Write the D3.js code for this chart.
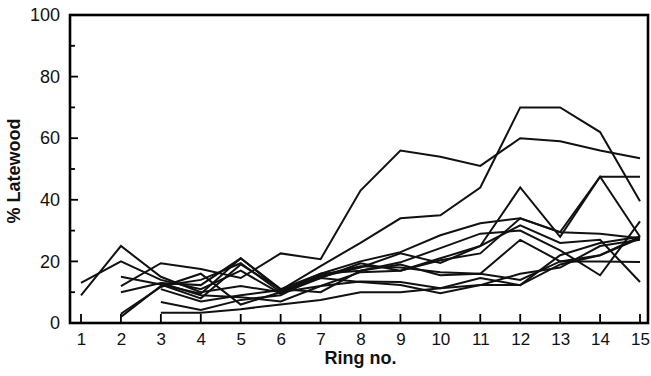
<!DOCTYPE html>
<html>
<head>
<meta charset="utf-8">
<script src="https://cdn.jsdelivr.net/npm/d3@7"></script>
<style>
  html, body { margin: 0; padding: 0; background: #fff; }
  svg { display: block; }
  text { font-family: "Liberation Sans", Arial, Helvetica, sans-serif; fill: #111; }
</style>
</head>
<body>
<svg id="chart" width="651" height="376"></svg>
<script>
// Ring numbers along the x axis
const rings = [1, 2, 3, 4, 5, 6, 7, 8, 9, 10, 11, 12, 13, 14, 15];
// Y axis tick values
const yTicks = [0, 20, 40, 60, 80, 100];
const yMinorTicks = [10, 30, 50, 70, 90];

// % latewood per ring for each tree (null = ring not measured)
const tree01 = [null, 12, 19.4, 17.5, 14.6, 22.6, 20.7, 43, 56, 54, 51, 60, 59, 56, 53.5];
const tree02 = [null, null, 12.5, 9.5, 21, 10.7, 18.5, 26, 34, 35, 44, 70, 70, 62, 39.5];
const tree03 = [9, 25, 15, 10, 12, 10, 15, 18, 22.6, 19.5, 25, 44, 28, 47.5, 47.5];
const tree04 = [13, 20, 14, 11, 17, 9.5, 14.6, 19.4, 17, 20.4, 22.6, 34, 29.5, 29, 27.5];
const tree05 = [null, 15, 12.5, 8, 19, 11, 16, 20, 23, 28.5, 32.4, 34, 29.5, 47.5, 28];
const tree06 = [null, 2, 12, 14, 19.4, 10, 16, 17, 19.7, 24.3, 29, 30, 23.6, 15.5, 33];
const tree07 = [null, 3, 11.7, 16, 6, 10, 12, 16.5, 17, 21, 25, 31.7, 26, 27, 13.3];
const tree08 = [null, null, 6.8, 4.2, 7.5, 9, 15.5, 18.4, 18, 16.5, 16, 27, 20, 20, 19.8];
const tree09 = [null, null, 3.3, 3.3, 4.5, 6, 7.5, 10, 10, 11.3, 14.6, 12.3, 22, 26, 28];
const tree10 = [null, null, 11, 7, 9, 10.7, 14.6, 13.3, 12.3, 9.7, 12.3, 12.3, 19, 22, 27.5];
const tree11 = [null, 10, 13, 12.3, 21, 11, 10, 17, 19, 15.5, 16, 14, 20, 22, 28];
const tree12 = [null, null, 13, 9, 8.4, 7, 12, 13.5, 13.3, 11.3, 12.3, 16, 18, 25, 27];

const trees = [tree01, tree02, tree03, tree04, tree05, tree06,
               tree07, tree08, tree09, tree10, tree11, tree12];

const svg = d3.select("#chart");

const frame = { left: 70, right: 648, top: 15, bottom: 323 };
const x = d3.scaleLinear().domain([1, 15]).range([81, 640]);
const y = d3.scaleLinear().domain([0, 100]).range([frame.bottom, frame.top]);

// Tick labels from the axis generators
const yAxis = d3.axisLeft(y).tickValues(yTicks).tickSize(0).tickPadding(10)
  .tickFormat(d3.format("d"));
const gy = svg.append("g").attr("transform", `translate(${frame.left},0)`).call(yAxis);
gy.select(".domain").remove();
gy.selectAll(".tick line").remove();
gy.selectAll(".tick text").style("font-size", "18px").attr("fill", "#111");

const xAxis = d3.axisBottom(x).tickValues(rings).tickSize(0).tickPadding(10)
  .tickFormat(d3.format("d"));
const gx = svg.append("g").attr("transform", `translate(0,${frame.bottom})`).call(xAxis);
gx.select(".domain").remove();
gx.selectAll(".tick line").remove();
gx.selectAll(".tick text").style("font-size", "17px").attr("fill", "#111");

// Plot frame
svg.append("rect")
  .attr("x", frame.left).attr("y", frame.top)
  .attr("width", frame.right - frame.left).attr("height", frame.bottom - frame.top)
  .attr("fill", "none").attr("stroke", "#000").attr("stroke-width", 2.6);

// Inward tick marks, one path each
const tickSegs = [
  ...yTicks.map(v => [[frame.left, y(v)], [frame.left + 8, y(v)]]),
  ...yMinorTicks.map(v => [[frame.left, y(v)], [frame.left + 5, y(v)]]),
  ...rings.map(r => [[x(r), frame.bottom], [x(r), frame.bottom - 9]])
];
svg.append("g").selectAll("path")
  .data(tickSegs)
  .join("path")
  .attr("d", d => `M${d[0][0]},${d[0][1]}L${d[1][0]},${d[1][1]}`)
  .attr("fill", "none").attr("stroke", "#000").attr("stroke-width", 1.8);

// Axis titles
svg.append("text")
  .attr("x", (x(1) + x(15)) / 2).attr("y", 364)
  .attr("text-anchor", "middle")
  .style("font-size", "18px").style("font-weight", "bold")
  .text("Ring no.");

svg.append("text")
  .attr("transform", `translate(20,${(y(0) + y(100)) / 2 + 2}) rotate(-90)`)
  .attr("text-anchor", "middle")
  .style("font-size", "18px").style("font-weight", "bold")
  .text("% Latewood");

// One line per tree
const line = d3.line()
  .defined(d => d != null)
  .x((d, i) => x(rings[i]))
  .y(d => y(d));

svg.append("g").selectAll("path")
  .data(trees)
  .join("path")
  .attr("d", line)
  .attr("fill", "none")
  .attr("stroke", "#111")
  .attr("stroke-width", 2)
  .attr("stroke-linejoin", "miter");
</script>
</body>
</html>
